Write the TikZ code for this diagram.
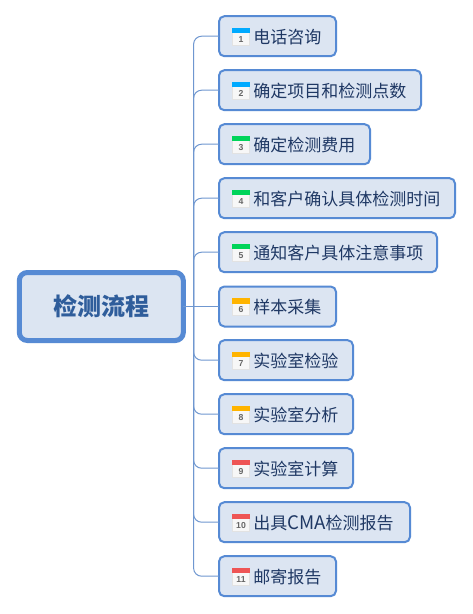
\documentclass[tikz,border=0pt]{standalone}
\usepackage{fontspec}
\setmainfont{Noto Sans CJK SC}
\newfontfamily\numfont{Liberation Sans}
\definecolor{edgeblue}{HTML}{568AD4}
\definecolor{fillblue}{HTML}{DCE5F2}
\definecolor{linkblue}{HTML}{6F97D0}
\definecolor{inktopic}{HTML}{1F3864}
\definecolor{inkroot}{HTML}{2F5D9B}
\definecolor{icblue}{HTML}{00AAFF}
\definecolor{icgreen}{HTML}{00D45A}
\definecolor{icorange}{HTML}{FFB400}
\definecolor{icred}{HTML}{EE5555}
\definecolor{icbody}{HTML}{F7F7F7}
\definecolor{icedge}{HTML}{E2E2E2}
\definecolor{icnum}{HTML}{666666}
\tikzset{
  x=0.75pt,y=-0.75pt,
  rootbox/.style={draw=edgeblue,fill=fillblue,line width=3.75pt,rounded corners=6pt,minimum width=123pt,minimum height=51pt,inner sep=0pt,outer sep=0pt,text=inkroot,font=\fontsize{18}{20}\selectfont\bfseries},
  topicbox/.style={draw=edgeblue,fill=fillblue,line width=1.5pt,rounded corners=4pt,minimum height=30pt,inner sep=0pt,outer sep=0pt,anchor=west},
  topictext/.style={text=inktopic,font=\fontsize{12.75}{14}\selectfont,anchor=west,inner sep=0pt},
  iconbody/.style={fill=icbody,draw=icedge,line width=0.4pt},
  iconnum/.style={text=icnum,font=\numfont\fontsize{6.5}{7}\selectfont\bfseries,inner sep=0pt},
  link/.style={draw=linkblue,line width=0.75pt,rounded corners=6pt},
}
\newcommand{\topic}[5]{% number, y, right edge, colour, text
  \pgfmathsetmacro{\wid}{(#3-219)*0.75}
  \node[topicbox,minimum width=\wid pt] (b#1) at (219,#2) {};
  \draw[iconbody] (232.3,#2-8) rectangle (249.7,#2+9);
  \fill[#4] (232,#2-8.2) rectangle (250,#2-3);
  \node[iconnum] (n#1) at (241,#2+3.2) {#1};
  \node[topictext] (t#1) at (253,#2+0.6) {#5};
}
\begin{document}
\begin{tikzpicture}
\useasboundingbox (0,0) rectangle (472,614);
\fill[white] (0,0) rectangle (472,614);
\coordinate (j) at (193.6,306.5);
\node[rootbox] (root) at (101.3,306.5) {检测流程};
\topic{1}{36.2}{336}{icblue}{电话咨询}
\topic{2}{90.2}{421}{icblue}{确定项目和检测点数}
\topic{3}{144.2}{370}{icgreen}{确定检测费用}
\topic{4}{198.2}{455}{icgreen}{和客户确认具体检测时间}
\topic{5}{252.2}{437}{icgreen}{通知客户具体注意事项}
\topic{6}{306.5}{336}{icorange}{样本采集}
\topic{7}{360.2}{353}{icorange}{实验室检验}
\topic{8}{414.2}{353}{icorange}{实验室分析}
\topic{9}{468.2}{353}{icred}{实验室计算}
\topic{10}{522.2}{410}{icred}{出具{\fontsize{14}{14}\selectfont CMA}检测报告}
\topic{11}{576.2}{336}{icred}{邮寄报告}
\draw[link] (root.east) -- (b6.west);
\foreach \i in {1,2,3,4,5,7,8,9,10,11}{
  \draw[link] (j) |- (b\i.west);
}
\end{tikzpicture}
\end{document}
